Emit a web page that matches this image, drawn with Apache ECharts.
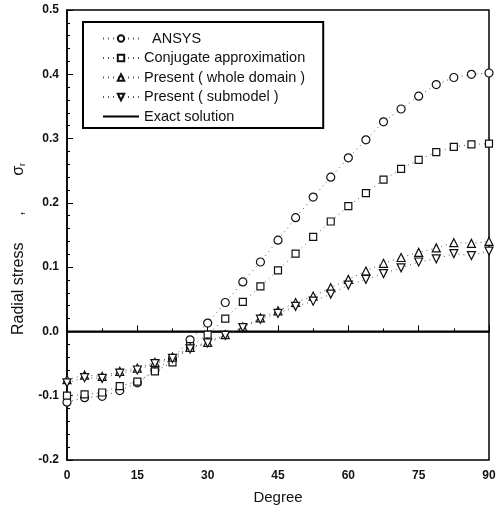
<!DOCTYPE html>
<html>
<head>
<meta charset="utf-8">
<script src="https://cdn.jsdelivr.net/npm/echarts@6/dist/echarts.min.js"></script>
<style>
  html, body { margin: 0; padding: 0; background: #fff; }
  #chart { width: 501px; height: 513px; }
</style>
</head>
<body>
<div id="chart"></div>
<script>
// 角度 (deg)
var degrees = [0, 3.75, 7.5, 11.25, 15, 18.75, 22.5, 26.25, 30, 33.75, 37.5, 41.25, 45,
  48.75, 52.5, 56.25, 60, 63.75, 67.5, 71.25, 75, 78.75, 82.5, 86.25, 90]

// 各系列数值
var ansys = [-0.110, -0.103, -0.101, -0.092, -0.080, -0.060, -0.042, -0.013, 0.013, 0.045, 0.077, 0.108, 0.142,
  0.177, 0.209, 0.240, 0.270, 0.298, 0.326, 0.346, 0.366, 0.384, 0.395, 0.400, 0.402]
var conjugate = [-0.100, -0.098, -0.095, -0.085, -0.078, -0.062, -0.048, -0.023, -0.005, 0.020, 0.046, 0.070, 0.095,
  0.121, 0.147, 0.171, 0.195, 0.215, 0.236, 0.253, 0.267, 0.279, 0.287, 0.291, 0.292]
var wholeDomain = [-0.075, -0.068, -0.070, -0.062, -0.057, -0.048, -0.040, -0.025, -0.017, -0.005, 0.007, 0.021, 0.032,
  0.045, 0.055, 0.068, 0.081, 0.094, 0.106, 0.115, 0.123, 0.130, 0.138, 0.137, 0.140]
var submodel = [-0.080, -0.072, -0.073, -0.065, -0.060, -0.050, -0.042, -0.027, -0.018, -0.006, 0.006, 0.019, 0.028,
  0.039, 0.047, 0.058, 0.072, 0.081, 0.090, 0.099, 0.108, 0.113, 0.121, 0.118, 0.125]
var exactX = [0, 90]
var exactY = [0, 0]

var xTicks = [0, 15, 30, 45, 60, 75, 90]
var yTicks = [-0.2, -0.1, 0.0, 0.1, 0.2, 0.3, 0.4, 0.5]

function pairs(xs, ys) {
  return xs.map(function (x, i) { return [x, ys[i]] })
}

function dotted(name, values, symbol, rotate) {
  return {
    name: name,
    type: "line",
    data: pairs(degrees, values),
    symbol: symbol,
    symbolSize: symbol === "rect" ? 7 : 8,
    symbolRotate: rotate || 0,
    showAllSymbol: true,
    lineStyle: { color: "#555", width: 1, type: [1, 4] },
    itemStyle: { color: "#fff", borderColor: "#111", borderWidth: 1.2 },
    emphasis: { disabled: true },
    z: 3
  }
}

var chart = echarts.init(document.getElementById("chart"))
var font = "Liberation Sans, Arial, sans-serif"

chart.setOption({
  animation: false,
  backgroundColor: "#fff",
  textStyle: { fontFamily: font },
  grid: { left: 67, right: 12, top: 10, bottom: 53, show: true, borderColor: "#000", borderWidth: 1.5 },
  legend: {
    orient: "vertical",
    left: 83,
    top: 22,
    padding: [9, 18, 4, 19],
    itemGap: 4.5,
    itemWidth: 36,
    itemHeight: 8,
    borderColor: "#000",
    borderWidth: 2,
    backgroundColor: "#fff",
    textStyle: { fontFamily: font, fontSize: 14.5, color: "#111" },
    data: ["ANSYS", "Conjugate approximation", "Present ( whole domain )", "Present ( submodel )", "Exact solution"],
    formatter: function (n) { return n === "ANSYS" ? "  ANSYS" : n }
  },
  xAxis: {
    type: "value",
    min: 0, max: 90, interval: 15,
    name: "Degree",
    nameLocation: "middle",
    nameGap: 30,
    nameTextStyle: { fontSize: 15, color: "#111", fontFamily: font },
    axisLine: { lineStyle: { color: "#000", width: 1.5 } },
    axisTick: { inside: true, length: 6, lineStyle: { color: "#000" } },
    minorTick: { show: true, splitNumber: 2, length: 3, lineStyle: { color: "#000" } },
    axisLabel: { fontSize: 12, fontWeight: "bold", color: "#111", margin: 10, formatter: function (v) { return xTicks.indexOf(v) >= 0 ? String(v) : "" } },
    splitLine: { show: false }
  },
  yAxis: {
    type: "value",
    min: -0.2, max: 0.5, interval: 0.1,
    name: "Radial stress      ,        σ{sub|r}",
    nameLocation: "middle",
    nameGap: 38,
    nameTextStyle: {
      fontSize: 16, color: "#111", fontFamily: font,
      padding: [0, 28, 0, 0],
      rich: { sub: { fontSize: 9, verticalAlign: "bottom", padding: [8, 0, 0, 0] } }
    },
    axisLine: { lineStyle: { color: "#000", width: 1.5 } },
    axisTick: { inside: true, length: 6, lineStyle: { color: "#000" } },
    minorTick: { show: true, splitNumber: 5, length: 3, lineStyle: { color: "#000" } },
    axisLabel: {
      fontSize: 12, fontWeight: "bold", color: "#111", margin: 8,
      formatter: function (v) {
        var r = Math.round(v * 10) / 10
        return yTicks.indexOf(r) >= 0 ? r.toFixed(1) : ""
      }
    },
    splitLine: { show: false }
  },
  series: [
    dotted("ANSYS", ansys, "circle"),
    dotted("Conjugate approximation", conjugate, "rect"),
    dotted("Present ( whole domain )", wholeDomain, "triangle"),
    dotted("Present ( submodel )", submodel, "triangle", 180),
    {
      name: "Exact solution",
      type: "line",
      data: pairs(exactX, exactY),
      symbol: "none",
      lineStyle: { color: "#000", width: 1.8 },
      itemStyle: { color: "rgba(0,0,0,0)", borderWidth: 0 },
      z: 2
    }
  ]
})
</script>
</body>
</html>
